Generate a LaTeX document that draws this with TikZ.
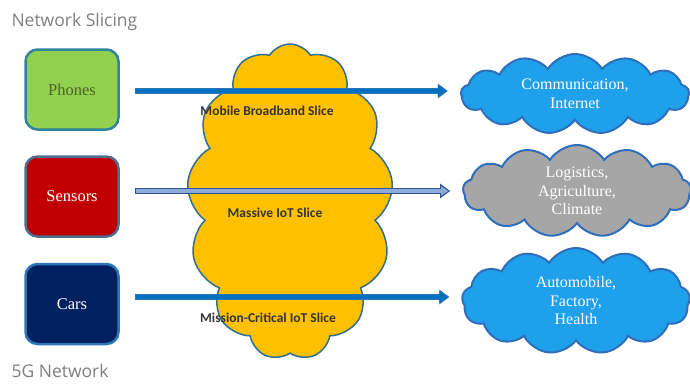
\documentclass[tikz,border=0pt]{standalone}
\usepackage{fontspec}
\setmainfont{Liberation Serif}
\newfontfamily\titlefont{Open Sans}
\newfontfamily\slicefont{Carlito}
\usetikzlibrary{shapes.symbols,arrows.meta}

\definecolor{phonegreen}{HTML}{92D050}
\definecolor{phoneedge}{HTML}{31849B}
\definecolor{phonetext}{HTML}{4F6228}
\definecolor{sensorred}{HTML}{C00000}
\definecolor{sensoredge}{HTML}{4F6D8F}
\definecolor{carnavy}{HTML}{002060}
\definecolor{caredge}{HTML}{2E75B6}
\definecolor{coreyellow}{HTML}{FFC000}
\definecolor{coreedge}{HTML}{2F6F8F}
\definecolor{cloudblue}{HTML}{1EA0EA}
\definecolor{cloudgray}{HTML}{A6A6A6}
\definecolor{cloudedge}{HTML}{2F6EBA}
\definecolor{slicefill}{HTML}{0070C0}
\definecolor{sliceedge}{HTML}{2E75B6}
\definecolor{iotfill}{HTML}{8EAADB}
\definecolor{iotedge}{HTML}{2F5597}
\definecolor{captiongray}{HTML}{7F7F7F}
\definecolor{slicetext}{HTML}{333333}

\begin{document}
\begin{tikzpicture}[x=1pt,y=-1pt,
		device/.style={rectangle, rounded corners=12pt, line width=2.5pt, minimum width=93pt, minimum height=80pt, font=\fontsize{16.5}{18}\selectfont},
		usecase/.style={cloud, cloud puffs=13, cloud puff arc=115, cloud ignores aspect, line width=2pt, draw=cloudedge, minimum width=228pt, text=white, align=center, inner sep=0pt, font=\fontsize{16}{18.5}\selectfont},
		caption/.style={anchor=west, text=captiongray, font=\titlefont\fontsize{17.5}{20}\selectfont},
		slicelabel/.style={text=slicetext, font=\slicefont\bfseries\fontsize{13.5}{15}\selectfont},
		slice/.style={line width=4.5pt, slicefill, -{Triangle[length=8pt,width=11pt]}, shorten <=16pt, shorten >=14pt,
			preaction={draw=sliceedge, line width=6.5pt, -{Triangle[length=10pt,width=14pt]}, shorten <=15pt, shorten >=12pt}},
		iotslice/.style={line width=3.5pt, iotfill, -{Triangle[length=7pt,width=9pt]}, shorten <=16pt, shorten >=14pt,
			preaction={draw=iotedge, line width=6.5pt, -{Triangle[length=10pt,width=14pt]}, shorten <=15pt, shorten >=12pt}}
		]
		\useasboundingbox (0,0) rectangle (690,383);
		
		\node[caption] (title) at (8,22) {Network Slicing};
		\node[caption] (footer) at (8,371) {5G Network};
		
		% devices
		\node[device, fill=phonegreen, draw=phoneedge, text=phonetext] (phones) at (72,89.5) {Phones};
		\node[device, fill=sensorred, draw=sensoredge, text=white] (sensors) at (72,196.5) {Sensors};
		\node[device, fill=carnavy, draw=caredge, text=white] (cars) at (72,304) {Cars};
		
		% shared core
		\node[cloud, cloud puffs=13, cloud puff arc=115, cloud ignores aspect, fill=coreyellow, draw=coreedge, line width=1.5pt, minimum width=206pt, minimum height=316pt] (core) at (290,202) {};
		
		% use cases
		\node[usecase, fill=cloudblue, minimum height=80pt] (comm) at (575,94) {Communication,\\Internet};
		\node[usecase, fill=cloudgray, minimum height=92pt] (logi) at (577,191) {Logistics,\\Agriculture,\\Climate};
		\node[usecase, fill=cloudblue, minimum height=106pt] (auto) at (576,301) {Automobile,\\Factory,\\Health};
		
		% slices
		\draw[slice] ([yshift=-1.5pt]phones.east) -- ([yshift=-1.5pt]phones.east -| comm.west);
		\draw[iotslice] ([yshift=5.5pt]sensors.east) -- ([yshift=5.5pt]sensors.east -| logi.west);
		\draw[slice] ([yshift=7pt]cars.east) -- ([yshift=7pt]cars.east -| auto.west);
		
		\node[slicelabel] (mbb) at (267,111) {Mobile Broadband Slice};
		\node[slicelabel] (miot) at (275,213) {Massive IoT Slice};
		\node[slicelabel] (ciot) at (268,318) {Mission-Critical IoT Slice};
		
	\end{tikzpicture}
\end{document}
